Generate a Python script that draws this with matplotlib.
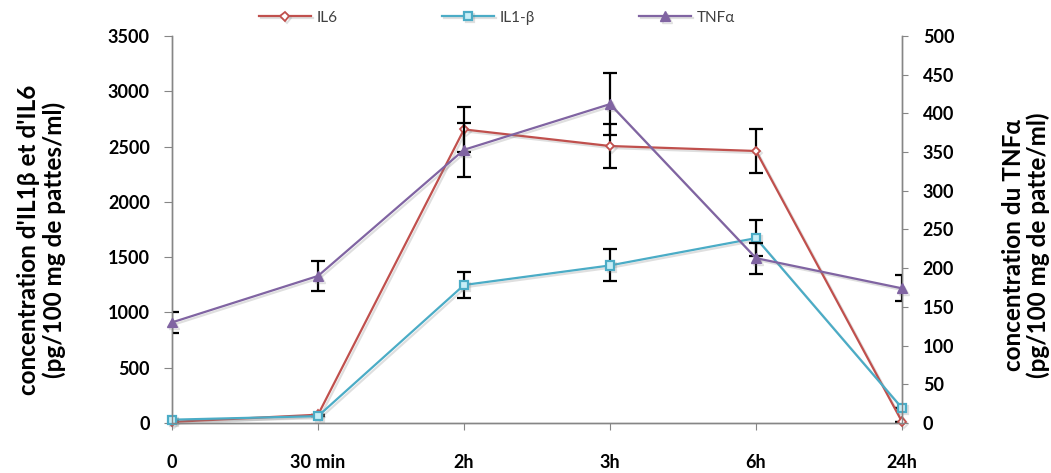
"""Cytokine kinetics: IL6 / IL1-beta (left axis) and TNF-alpha (right axis)"""
import numpy as np
import matplotlib
matplotlib.use("Agg")
import matplotlib.pyplot as plt
import matplotlib.patheffects as pe

times = ["0", "30 min", "2h", "3h", "6h", "24h"]

il6 = [10, 75, 2655, 2505, 2460, 12]
il6_err = [0, 0, 200, 200, 200, 0]

il1b = [30, 62, 1248, 1425, 1672, 135]
il1b_err = [0, 0, 122, 145, 160, 0]

tnf = [130, 190, 353, 412, 213, 174]
tnf_err = [14, 19, 35, 40, 20, 17]

RED = "#C0504D"
CYAN = "#4BACC6"
PURPLE = "#8064A2"
GRID = "#868686"

plt.rcParams["font.family"] = ["Lato", "DejaVu Sans"]

fig = plt.figure(figsize=(10.51, 4.73), dpi=100)
ax = fig.add_axes([0.1637, 0.1057, 0.6945, 0.8182])
ax2 = ax.twinx()

x = np.arange(len(times))
shadow = [pe.SimpleLineShadow(offset=(1.5, -1.5), alpha=0.25, shadow_color="gray"), pe.Normal()]

ax.errorbar(x, il6, yerr=il6_err, fmt="none", ecolor="black", elinewidth=1.6,
            capsize=5, capthick=1.6, zorder=2)
ax.errorbar(x, il1b, yerr=il1b_err, fmt="none", ecolor="black", elinewidth=1.6,
            capsize=5, capthick=1.6, zorder=2)
l1, = ax.plot(x, il6, color=RED, lw=1.6, marker="D", ms=4.5, mfc="white",
              mec=RED, mew=1.3, label="IL6", clip_on=False, zorder=3,
              path_effects=shadow)
l2, = ax.plot(x, il1b, color=CYAN, lw=1.6, marker="s", ms=6, mfc="#C8EEF7",
              mec=CYAN, mew=1.6, label="IL1-β", clip_on=False, zorder=3,
              path_effects=shadow)

ax2.errorbar(x, tnf, yerr=tnf_err, fmt="none", ecolor="black", elinewidth=1.6,
             capsize=5, capthick=1.6, zorder=2)
l3, = ax2.plot(x, tnf, color=PURPLE, lw=1.6, marker="^", ms=7, mfc=PURPLE,
               mec=PURPLE, label="TNFα", clip_on=False, zorder=3,
               path_effects=shadow)

ax.set_xlim(0, 5)
ax.set_ylim(0, 3500)
ax.set_yticks(np.arange(0, 3501, 500))
ax2.set_ylim(0, 500)
ax2.set_yticks(np.arange(0, 501, 50))
ax.set_xticks(x)
ax.set_xticklabels(times)

for a in (ax, ax2):
    a.spines["top"].set_visible(False)
    for s in ("left", "right", "bottom"):
        a.spines[s].set_color(GRID)
        a.spines[s].set_linewidth(1.0)
    for lab in a.get_yticklabels():
        lab.set_fontweight("bold")
ax.tick_params(axis="y", colors=GRID, labelcolor="black", length=6,
               labelsize=13, pad=10)
ax2.tick_params(axis="y", colors=GRID, labelcolor="black", length=4,
                labelsize=13, pad=11)
ax.tick_params(axis="x", colors=GRID, labelcolor="black", length=5,
               labelsize=13, pad=17)
for lab in ax.get_xticklabels():
    lab.set_fontweight("bold")

ax.set_ylabel("concentration d'IL1β et d'IL6\n(pg/100 mg de pattes/ml)",
              fontsize=17.5, fontweight="bold", linespacing=1.1,
              ha="center", va="center")
ax.yaxis.set_label_coords(-0.179, 0.472)
ax2.set_ylabel("concentration du TNFα\n(pg/100 mg de patte/ml)",
               fontsize=17.5, fontweight="bold", linespacing=1.1,
               rotation=90, ha="center", va="center")
ax2.yaxis.set_label_coords(1.17, 0.46)

fig.legend(handles=[l1, l2, l3], loc="center", bbox_to_anchor=(0.473, 0.963),
           ncol=3, frameon=False, fontsize=11, handlelength=3.4,
           columnspacing=6.8, handletextpad=0.4, labelcolor="#404040")

fig.savefig("out.png", dpi=100)
